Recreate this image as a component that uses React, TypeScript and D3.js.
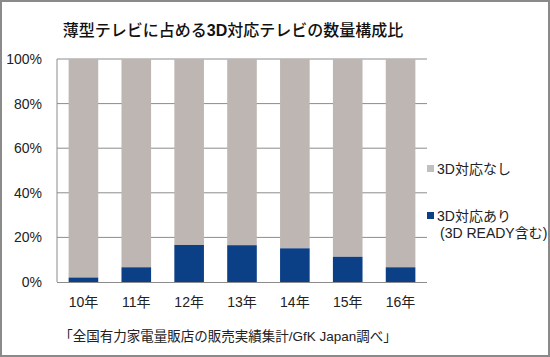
import React from "react";
import * as d3 from "d3";

const categories = ["10年", "11年", "12年", "13年", "14年", "15年", "16年"];
const with3D = [2, 6.6, 16.6, 16.5, 15.1, 11.3, 6.6];
const yTicks = [0, 20, 40, 60, 80, 100];
const titleA = "薄型テレビに占める";
const titleB = "3D";
const titleC = "対応テレビの数量構成比";
const footer = "「全国有力家電量販店の販売実績集計/GfK Japan調べ」";
const legendNo = "3D対応なし";
const legendYes1 = "3D対応あり";
const legendYes2 = "(3D READY含む)";

const W = 550, H = 357;
const left = 57, right = 427, top = 59, bottom = 282;
const GRAY = "#bdb6b3";
const BLUE = "#0b3f86";
const FONT = "'Liberation Sans', Arial, 'Noto Sans CJK JP', sans-serif";

export default function App() {
  const x = d3.scaleBand<string>().domain(categories).range([left, right]).paddingInner(0.44).paddingOuter(0.22);
  const y = d3.scaleLinear().domain([0, 100]).range([bottom, top]);
  return (
    <svg width={W} height={H} style={{ position: "absolute", left: 0, top: 0, background: "#fff" }} fontFamily={FONT}>
      <rect x={1} y={1} width={W - 2} height={H - 2} fill="#fff" stroke="#8a8a8a" strokeWidth={2} />
      <text x={233} y={36} textAnchor="middle" fontSize={16} fontWeight={500} fill="#111">
        {titleA}<tspan fontWeight={700}>{titleB}</tspan>{titleC}
      </text>
      {yTicks.map((t) => (
        <g key={t}>
          {t > 0 && <line x1={left} x2={right} y1={y(t)} y2={y(t)} stroke="#8c8c8c" strokeWidth={1} />}
          <text x={42} y={y(t) + 5} textAnchor="end" fontSize={14} fill="#222">{t}%</text>
        </g>
      ))}
      {categories.map((c, i) => (
        <g key={c}>
          <rect x={x(c)} y={y(100)} width={x.bandwidth()} height={y(with3D[i]) - y(100)} fill={GRAY} />
          <rect x={x(c)} y={y(with3D[i])} width={x.bandwidth()} height={y(0) - y(with3D[i])} fill={BLUE} />
          <text x={(x(c) as number) + x.bandwidth() / 2} y={307} textAnchor="middle" fontSize={14} fill="#222">{c}</text>
        </g>
      ))}
      <line x1={left} x2={left} y1={top} y2={bottom} stroke="#8c8c8c" strokeWidth={1} />
      <line x1={left} x2={right} y1={bottom + 0.5} y2={bottom + 0.5} stroke="#8c8c8c" strokeWidth={1} />
      <rect x={427} y={165} width={7} height={7} fill="#c0c0c0" />
      <text x={437} y={174} fontSize={14} fill="#222">{legendNo}</text>
      <rect x={427} y={212} width={7} height={7} fill={BLUE} />
      <text x={437} y={221} fontSize={14} fill="#222">{legendYes1}</text>
      <text x={440} y={238} fontSize={14} fill="#222">{legendYes2}</text>
      <text x={228} y={341} textAnchor="middle" fontSize={13.5} fill="#222">{footer}</text>
    </svg>
  );
}
